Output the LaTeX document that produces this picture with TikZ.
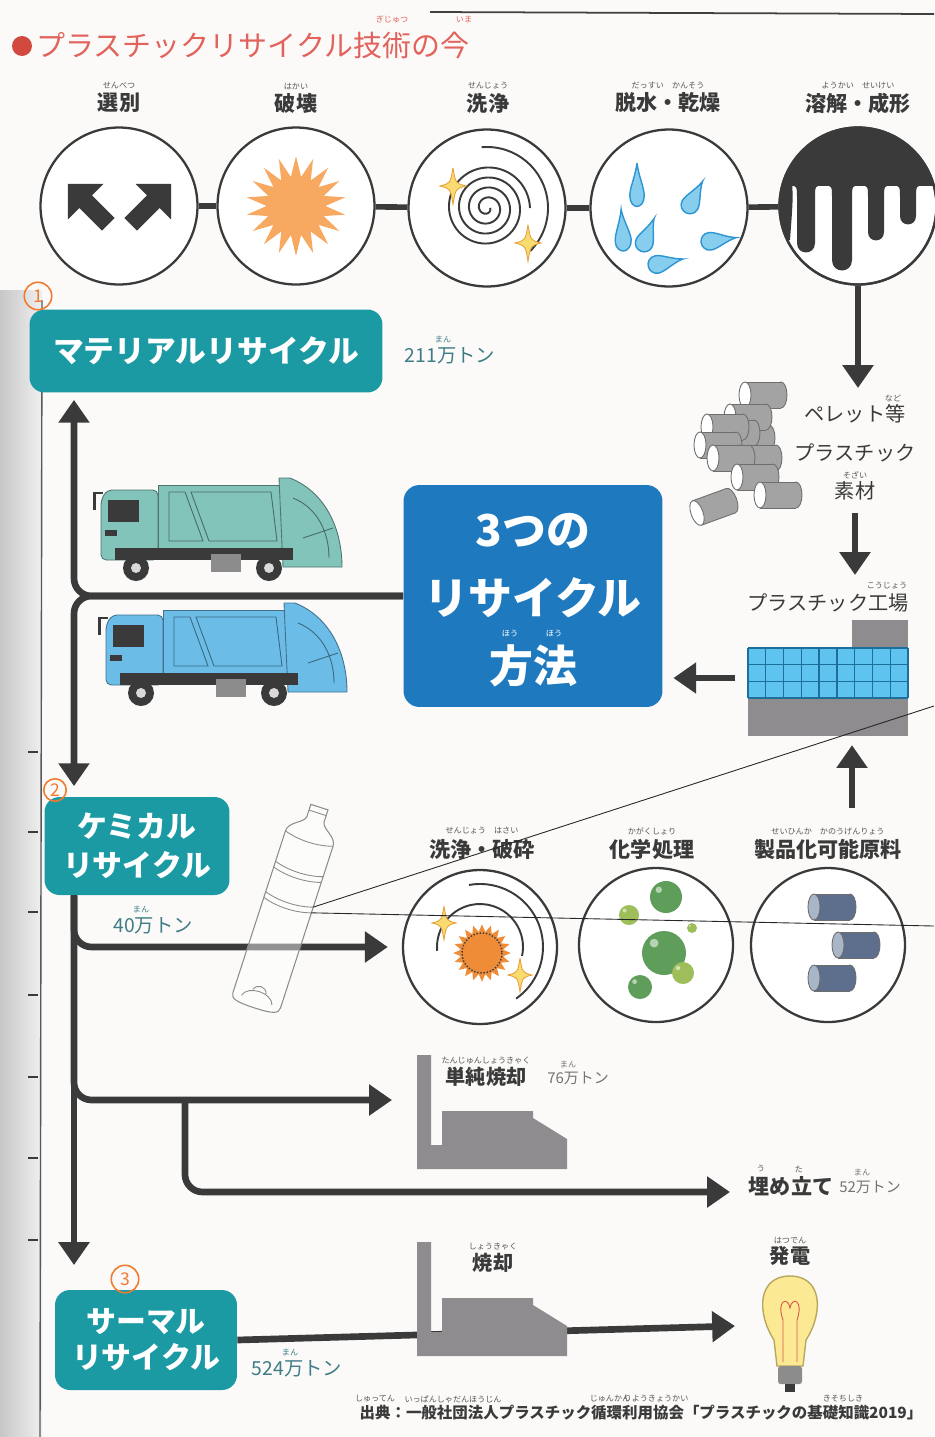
\documentclass[tikz,border=0pt]{standalone}
\usepackage{fontspec}
\setmainfont{Noto Sans CJK JP}
\usepackage{tikz}
\usetikzlibrary{arrows.meta,positioning,calc,shapes.geometric}

\definecolor{ink}{HTML}{3A3A3A}
\definecolor{paper}{HTML}{FBFAF9}
\definecolor{boxteal}{HTML}{1B9AA4}
\definecolor{methodblue}{HTML}{1F79BE}
\definecolor{titlered}{HTML}{E2625C}
\definecolor{titledot}{HTML}{D2493F}
\definecolor{amount}{HTML}{3E7C86}
\definecolor{burst}{HTML}{F7A861}
\definecolor{burstdark}{HTML}{EE8C38}
\definecolor{sparkfill}{HTML}{F8DC72}
\definecolor{sparkedge}{HTML}{E8A23A}
\definecolor{dropfill}{HTML}{86CDEE}
\definecolor{dropedge}{HTML}{2C95D2}
\definecolor{pelletgray}{HTML}{A3A3A3}
\definecolor{pelletedge}{HTML}{6E6E6E}
\definecolor{factorygray}{HTML}{8E8C8E}
\definecolor{window}{HTML}{5EC3EE}
\definecolor{windowedge}{HTML}{1E6E9A}
\definecolor{truckgreen}{HTML}{82C3BA}
\definecolor{truckblue}{HTML}{6CBCE8}
\definecolor{bulbfill}{HTML}{FBEA93}
\definecolor{bulbedge}{HTML}{B9A75E}
\definecolor{filament}{HTML}{D9544A}
\definecolor{pen}{HTML}{F07A2E}
\definecolor{rawblue}{HTML}{5D6F8C}
\definecolor{rawface}{HTML}{A9B6C8}
\definecolor{bubdark}{HTML}{5E9E5A}
\definecolor{bublight}{HTML}{9DBE5A}

\tikzset{
  stage/.style={circle, draw=ink, line width=1.3pt, minimum size=3.14cm, inner sep=0pt, fill=white},
  link/.style={ink, line width=3.2pt},
  flow/.style={ink, line width=3.8pt, -{Triangle[width=17pt,length=13pt]}},
  caption/.style={font=\bfseries\fontsize{12}{12}\selectfont, text=ink, inner sep=0pt},
  ruby/.style={font=\fontsize{4.6}{4.6}\selectfont, text=ink!85, inner sep=0pt},
  amount/.style={font=\fontsize{11}{11}\selectfont, text=amount, inner sep=0pt},
  small amount/.style={font=\fontsize{8.5}{8.5}\selectfont, text=black!55, inner sep=0pt},
  tealbox/.style={fill=boxteal, rounded corners=0.3cm, text=white, align=center, inner sep=0pt,
    font=\bfseries\fontsize{17}{21}\selectfont},
  methodtext/.style={text=white, inner sep=0pt, font=\bfseries\fontsize{25}{25}\selectfont},
  penmark/.style={circle, draw=pen, text=pen, line width=0.9pt, inner sep=0pt, minimum size=0.55cm,
    font=\fontsize{10}{10}\selectfont},
  pics/sparkle/.style={code={
    \filldraw[fill=sparkfill, draw=sparkedge, line width=0.5pt]
      (0,-14) .. controls (2,-2) .. (10,0) .. controls (2,2) .. (0,14)
      .. controls (-2,2) .. (-10,0) .. controls (-2,-2) .. cycle;
  }},
  pics/drop/.style={code={
    \filldraw[fill=dropfill, draw=dropedge, line width=0.8pt]
      (0,-22) .. controls (2,-12) and (8,-4) .. (8,2) .. controls (8,7) and (4,10) .. (0,10)
      .. controls (-4,10) and (-8,7) .. (-8,2) .. controls (-8,-4) and (-2,-12) .. cycle;
  }},
  pics/pellet/.style 2 args={code={
    \filldraw[fill=#1, draw=pelletedge, line width=0.5pt] (36,0) ellipse (6 and 13);
    \fill[#1] (0,-13) rectangle (36,13);
    \draw[pelletedge, line width=0.5pt] (0,-13) -- (36,-13) (0,13) -- (36,13);
    \filldraw[fill=#2, draw=pelletedge, line width=0.5pt] (0,0) ellipse (6 and 13);
  }},
  pics/kiln/.style={code={
    \fill[factorygray] (0,0) -- (14,0) -- (14,90) -- (25,90) -- (25,56) -- (116,56) -- (116,63)
      -- (150,84) -- (150,114) -- (0,114) -- cycle;
  }},
  pics/truck/.style={code={
    % mirror and cab
    \fill[ink] (0,14) rectangle (3,32);
    \draw[ink, line width=0.8pt] (1,15) -- (10,15);
    \filldraw[fill=#1, draw=#1!60!black, line width=0.5pt, rounded corners=3pt]
      (8,82) -- (8,22) -- (14,12) -- (65,12) -- (65,82) -- cycle;
    \fill[ink] (15,22) rectangle (46,44);
    \fill[ink] (12,52) rectangle (24,58);
    % container
    \filldraw[fill=#1, draw=#1!60!black, line width=0.5pt] (65,7) rectangle (192,70);
    \draw[#1!55!black, line width=0.5pt] (76,14) -- (92,14) -- (110,63) -- (76,63) -- cycle
      (98,14) -- (178,14) -- (184,63) -- (116,63) -- cycle;
    % packer
    \filldraw[fill=#1, draw=#1!60!black, line width=0.5pt]
      (186,0) -- (197,0) .. controls (232,14) and (249,50) .. (249,89) -- (190,89) -- cycle;
    \draw[#1!55!black, line width=0.5pt] (200,20) .. controls (225,30) and (236,55) .. (236,80)
      (210,60) -- (240,50);
    % chassis and wheels
    \fill[ink] (22,70) rectangle (200,82);
    \fill[black!45] (118,76) rectangle (148,94);
    \foreach \wx in {43,176} {
      \fill[ink] (\wx,90) circle (13);
      \fill[black!15] (\wx,90) circle (5);
    }
  }},
}

\begin{document}
\begin{tikzpicture}[x=0.02cm, y=-0.02cm]
\useasboundingbox (0,0) rectangle (934,1437);
\fill[paper] (0,0) rectangle (934,1437);

% page edge and ruler ticks
\fill[left color=black!22, right color=black!6] (0,290) rectangle (42,1437);
\draw[black!65, line width=0.8pt] (42,300) -- (40,1437);
\foreach \y in {752,832,912,995,1077,1158,1240}
  \draw[ink, line width=0.7pt] (28,\y) -- (38,\y);
\draw[black!75, line width=1pt] (430,12) -- (934,14);

% title
\fill[titledot] (22,46) circle (10);
\node[anchor=west, text=titlered, inner sep=0pt, font=\fontsize{16.5}{16.5}\selectfont] (title) at (36,45) {プラスチックリサイクル技術の今};
\node[ruby, text=titlered] (rt1) at (392,19) {ぎじゅつ};
\node[ruby, text=titlered] (rt2) at (464,19) {いま};

% five treatment stages
\node[caption] (t1) at (119,103) {選別};
\node[caption] (t2) at (296,103) {破壊};
\node[caption] (t3) at (488,103) {洗浄};
\node[caption] (t4) at (668,103) {脱水・乾燥};
\node[caption] (t5) at (858,103) {溶解・成形};
\node[ruby] (rs1) at (119,86) {せんべつ};
\node[ruby] (rs2) at (296,86) {はかい};
\node[ruby] (rs3) at (488,86) {せんじょう};
\node[ruby] (rs4) at (668,86) {だっすい　かんそう};
\node[ruby] (rs5) at (858,86) {ようかい　せいけい};

\node[stage] (s1) at (119,206) {};
\node[stage] (s2) at (296,206) {};
\node[stage] (s3) at (487,208) {};
\node[stage] (s4) at (669,208) {};
\node[stage] (s5) at (858,206) {};
\foreach \a/\b in {s1/s2,s2/s3,s3/s4,s4/s5}
  \draw[link] (\a) -- (\b);

% sorting arrows
\begin{scope}[shift={(s1.center)}]
  \foreach \dx/\ang in {-27/45,28/-45}
    \fill[ink, shift={(\dx,2)}, rotate=\ang]
      (0,-34) -- (25,-9) -- (9,-9) -- (9,23) -- (-9,23) -- (-9,-9) -- (-25,-9) -- cycle;
\end{scope}

% crushing
\node[star, star points=18, star point ratio=1.7, fill=burst, minimum size=2.0cm, inner sep=0pt] (burst1) at (s2) {};

% washing
\begin{scope}[shift={(s3.center)}]
  \draw[ink, line width=1.1pt] plot[domain=0:1440, samples=200, smooth] ({(3+\x/36)*cos(\x)}, {(3+\x/36)*sin(\x)});
  \draw[ink, line width=1.1pt] (-95:61) arc[start angle=-95, end angle=45, radius=61];
  \pic[scale=1.3] at (-34,-22) {sparkle};
  \pic[scale=1.3] at (41,35) {sparkle};
\end{scope}

% dewatering
\begin{scope}[shift={(s4.center)}]
  \pic[xscale=0.9, yscale=1.35] at (-32,-15) {drop};
  \pic[rotate=-28, scale=1.1] at (22,-5) {drop};
  \pic[yscale=1.3, rotate=5] at (-46,30) {drop};
  \pic[rotate=-22, scale=1.1] at (-24,33) {drop};
  \pic[rotate=-78, scale=1.1] at (-10,56) {drop};
  \pic[rotate=-82, scale=1.1] at (43,33) {drop};
\end{scope}

% melting
\begin{scope}
  \clip (s5.center) circle (78);
  \fill[ink] (770,110) rectangle (940,186);
  \foreach \x/\y/\w in {806/252/9,842/270/10,876/240/8,908/224/8}
    \fill[ink] (\x-\w-9,184) .. controls (\x-\w,186) .. (\x-\w,198) -- (\x-\w,\y-\w)
      .. controls (\x-\w,\y+0.4*\w) and (\x+\w,\y+0.4*\w) .. (\x+\w,\y-\w)
      -- (\x+\w,198) .. controls (\x+\w,186) .. (\x+\w+9,184) -- cycle;
  \fill[ink] (770,180) -- (792,180) .. controls (793,200) .. (790,240) -- (770,240) -- cycle;
\end{scope}
\draw[ink, line width=1.3pt] (s5.center) circle (78.5);

% pellets
\coordinate (pelletTop) at (858,388);
\draw[flow] (s5.south) -- (s5.south |- pelletTop);
\foreach \px/\py in {745/395,733/438,730/417,718/433,707/427,700/445,740/458,713/458,737/477,760/495}
  \pic at (\px,\py) {pellet={pelletgray}{white}};
\pic[rotate=20] at (697,513) {pellet={pelletgray}{white}};

\node[caption, font=\fontsize{11.5}{11.5}\selectfont] (pel1) at (855,414) {ペレット等};
\node[caption, font=\fontsize{11.5}{11.5}\selectfont] (pel2) at (855,453) {プラスチック};
\node[caption, font=\fontsize{11.5}{11.5}\selectfont] (pel3) at (855,491) {素材};
\node[ruby] (rp1) at (893,398) {など};
\node[ruby] (rp3) at (855,475) {そざい};
\draw[flow] (pel3.south) ++(0,12) coordinate (pelBase) (pelBase) -- (855,575);

% plastics factory
\node[caption, font=\fontsize{11.5}{11.5}\selectfont] (fact) at (828,603) {プラスチック工場};
\node[ruby] (rf) at (887,586) {こうじょう};
\node[inner sep=0pt, minimum width=3.2cm, minimum height=2.32cm] (factory) at (828,678) {};
\fill[factorygray] (852,620) rectangle (908,648);
\fill[factorygray] (748,698) rectangle (908,736);
\fill[window] (748,648) rectangle (908,698);
\foreach \i in {0,...,9}
  \draw[windowedge, line width=0.8pt] (748+\i*17.78,648) -- ++(0,50);
\foreach \j in {0,...,3}
  \draw[windowedge, line width=0.8pt] (748,648+\j*16.67) -- ++(160,0);

% three methods
\node[fill=methodblue, rounded corners=0.32cm, minimum width=5.18cm, minimum height=4.44cm] (method) at (533,596) {};
\node[methodtext] (m1) at (533,531) {3つの};
\node[methodtext] (m2) at (533,598) {リサイクル};
\node[methodtext] (m3) at (533,666) {方法};
\node[ruby, text=white] (rm1) at (510,634) {ほう};
\node[ruby, text=white] (rm2) at (554,634) {ほう};
\draw[flow, shorten <=7pt, shorten >=6pt] (factory.west) -- (factory.west -| method.east);

% trucks
\pic at (93,478) {truck=truckgreen};
\pic at (98,603) {truck=truckblue};

% recycle boxes
\node[tealbox, minimum width=7.06cm, minimum height=1.66cm, font=\bfseries\fontsize{17.5}{21}\selectfont] (material) at (206,351) {マテリアルリサイクル};
\node[tealbox, minimum width=3.7cm, minimum height=1.96cm, font=\bfseries\fontsize{17}{22.5}\selectfont] (chemical) at (137,846) {ケミカル\\リサイクル};
\node[tealbox, minimum width=3.64cm, minimum height=2.0cm, font=\bfseries\fontsize{17}{20.5}\selectfont] (thermal) at (146,1340) {サーマル\\リサイクル};

\node[amount] (a1) at (450,356) {211万トン};
\node[ruby, text=amount] (ra1) at (443,339) {まん};
\node[amount] (a2) at (153,926) {40万トン};
\node[ruby, text=amount] (ra2) at (141,909) {まん};
\node[amount] (a3) at (297,1369) {524万トン};
\node[ruby, text=amount] (ra3) at (290,1352) {まん};

\node[penmark] (n1) at (38,296) {1};
\node[penmark, minimum size=0.45cm] (n2) at (55,790) {2};
\node[penmark] (n3) at (125,1279) {3};

% main trunk
\coordinate (fork) at (74,596);
\draw[flow, rounded corners=10pt, shorten >=4pt] (method.west) -- (fork) -- (fork |- material.south);
\draw[flow, rounded corners=10pt, shorten >=6pt] (method.west) -- (fork) -- (fork |- chemical.north);

% chemical recycling
\node[stage, minimum size=3.08cm] (c1) at (480,947) {};
\node[stage, minimum size=3.08cm] (c2) at (656,945) {};
\node[stage, minimum size=3.08cm] (c3) at (828,945) {};
\node[caption] (u1) at (482,849) {洗浄・破砕};
\node[caption] (u2) at (652,849) {化学処理};
\node[caption] (u3) at (828,849) {製品化可能原料};
\node[ruby] (ru1) at (482,831) {せんじょう　はさい};
\node[ruby] (ru2) at (652,831) {かがくしょり};
\node[ruby] (ru3) at (828,831) {せいひんか　かのうげんりょう};

\begin{scope}[shift={(c1.center)}]
  \draw[ink, line width=1.1pt] (-100:63) arc[start angle=-100, end angle=55, radius=63];
  \draw[ink, line width=1.1pt] (175:43) arc[start angle=175, end angle=372, radius=43];
  \node[star, star points=20, star point ratio=1.35, fill=burstdark, minimum size=1.15cm, inner sep=0pt] (burst2) at (2,6) {};
  \draw[ink, densely dotted, line width=0.8pt] (2,6) circle (20);
  \pic[scale=1.2] at (-36,-24) {sparkle};
  \pic[scale=1.2] at (40,28) {sparkle};
\end{scope}

\begin{scope}[shift={(c2.center)}]
  \foreach \dx/\dy/\r/\col in {10/-48/16/bubdark,-27/-30/10/bublight,36/-17/5/bublight,8/8/22/bubdark,27/28/11/bublight,-16/42/12/bubdark} {
    \fill[\col] (\dx,\dy) circle (\r);
    \fill[white, opacity=0.55] (\dx-0.45*\r,\dy-0.45*\r) circle (0.2*\r);
  }
\end{scope}

\begin{scope}[shift={(c3.center)}]
  \foreach \dx/\dy in {-14/-38,10/0,-14/33}
    \pic at (\dx,\dy) {pellet={rawblue}{rawface}};
\end{scope}

\coordinate (upfoot) at (852,808);
\draw[flow, shorten >=5pt] (upfoot) -- (upfoot |- factory.south);

% lower trunk and branches
\coordinate (burnin) at (392,1100);
\coordinate (split) at (185,1100);
\coordinate (landin) at (730,1192);
\draw[flow, shorten >=14pt] (fork |- chemical.south) -- (fork |- thermal.north);
\draw[flow, rounded corners=10pt, shorten >=8pt] (fork |- chemical.south) -- (fork |- c1) -- (c1);
\draw[flow, rounded corners=10pt] (fork |- chemical.south) -- (fork |- burnin) -- (burnin);
\draw[flow, rounded corners=10pt] (split) -- (split |- landin) -- (landin);

% incineration
\pic at (417,1055) {kiln};
\node[caption, font=\bfseries\fontsize{11.5}{11.5}\selectfont] (burn1) at (486,1077) {単純焼却};
\node[ruby] (rb1) at (486,1061) {たんじゅんしょうきゃく};
\node[small amount] (a4) at (578,1078) {76万トン};
\node[ruby, text=black!55] (ra4) at (568,1064) {まん};

% landfill
\node[caption, font=\bfseries\fontsize{12}{12}\selectfont] (land) at (791,1186) {埋め立て};
\node[ruby] (rl1) at (761,1169) {う};
\node[ruby] (rl2) at (799,1169) {た};
\node[small amount] (a5) at (870,1187) {52万トン};
\node[ruby, text=black!55] (ra5) at (862,1172) {まん};

% thermal recycling
\coordinate (bulbin) at (735,1326);
\draw[flow] (thermal.east) -- (bulbin);
\pic at (417,1242) {kiln};
\node[caption, font=\bfseries\fontsize{11.5}{11.5}\selectfont] (burn2) at (493,1263) {焼却};
\node[ruby] (rb2) at (493,1247) {しょうきゃく};
\node[caption, font=\bfseries\fontsize{11.5}{11.5}\selectfont] (power) at (790,1256) {発電};
\node[ruby] (rpw) at (790,1240) {はつでん};

% light bulb
\filldraw[fill=bulbfill, draw=bulbedge, line width=0.8pt]
  (790,1276) .. controls (822,1276) and (824,1312) .. (806,1340) -- (803,1366) -- (777,1366)
  -- (774,1340) .. controls (756,1312) and (758,1276) .. (790,1276);
\draw[filament, line width=0.5pt] (783,1362) -- (783,1320) .. controls (776,1300) and (788,1296) .. (790,1308)
  .. controls (792,1296) and (804,1300) .. (797,1320) -- (797,1362);
\fill[black!45, rounded corners=1.5pt] (778,1366) rectangle (802,1384);
\fill[ink] (785,1384) rectangle (795,1392);

% bottle
\begin{scope}[shift={(287,907)}, rotate=-18]
  \filldraw[fill=white, fill opacity=0.45, draw=black!45, line width=0.6pt]
    (-9,-105) -- (9,-105) -- (9,-92) .. controls (10,-85) and (25,-82) .. (25,-72) -- (25,98)
    .. controls (25,104) and (20,106) .. (0,106) .. controls (-20,106) and (-25,104) .. (-25,98)
    -- (-25,-72) .. controls (-25,-82) and (-10,-85) .. (-9,-92) -- cycle;
  \draw[black!45, line width=0.5pt] (-9,-99) -- (9,-99)
    (-25,-72) .. controls (-10,-67) and (10,-67) .. (25,-72)
    (-25,-40) .. controls (-10,-35) and (10,-35) .. (25,-40)
    (-25,-34) .. controls (-10,-29) and (10,-29) .. (25,-34)
    (-25,-8) .. controls (-10,-3) and (10,-3) .. (25,-8)
    (-25,-2) .. controls (-10,3) and (10,3) .. (25,-2)
    (-16,98) .. controls (-13,86) and (13,86) .. (16,98)
    (-7,89) .. controls (-5,82) and (5,82) .. (7,89);
  \coordinate (tagA) at (25,-8);
  \coordinate (tagB) at (25,-2);
\end{scope}
\coordinate (edgeA) at (934,706);
\coordinate (edgeB) at (934,926);
\draw[black!85, line width=0.5pt] (tagA) -- (edgeA);
\draw[black!85, line width=0.5pt] (tagB) -- (edgeB);

% source
\node[inner sep=0pt, text=ink, font=\bfseries\fontsize{8.8}{8.8}\selectfont] (source) at (641,1413) {出典：一般社団法人プラスチック循環利用協会「プラスチックの基礎知識2019」};
\node[ruby] (rq1) at (375,1399) {しゅってん};
\node[ruby] (rq2) at (453,1399) {いっぱんしゃだんほうじん};
\node[ruby] (rq3) at (610,1399) {じゅんかん};
\node[ruby] (rq4) at (656,1399) {りようきょうかい};
\node[ruby] (rq5) at (843,1399) {きそちしき};
\end{tikzpicture}
\end{document}
